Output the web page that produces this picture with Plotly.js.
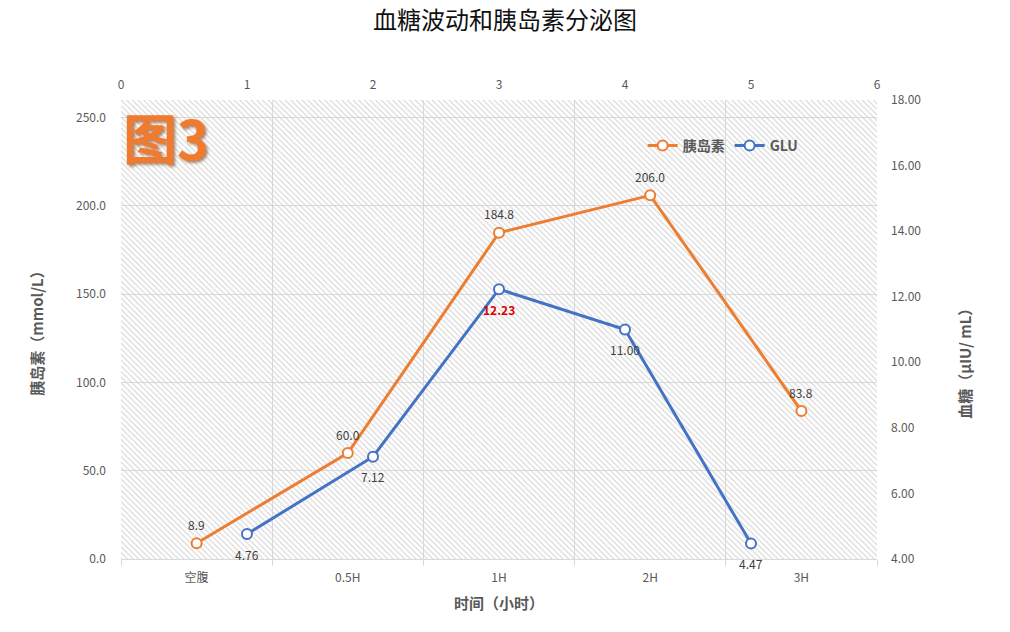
<!DOCTYPE html>
<html>
<head>
<meta charset="utf-8">
<script src="https://cdn.plot.ly/plotly-3.0.1.min.js"></script>
<style>html,body{margin:0;padding:0;background:#fff;}#chart{width:1010px;height:632px;}</style>
</head>
<body>
<div id="chart"></div>
<script>
const categories = ['空腹', '0.5H', '1H', '2H', '3H'];
const insulin = [8.9, 60.0, 184.8, 206.0, 83.8];
const gluX = [1, 2, 3, 4, 5];
const glu = [4.76, 7.12, 12.23, 11.00, 4.47];

const FONT = '"Noto Sans CJK SC", "Noto Sans", sans-serif';
const GRAY = '#595959';
const ORANGE = '#ED7D31';
const BLUE = '#4472C4';

const catIdx = categories.map((c, i) => i);
const xRange = [-0.5, categories.length - 0.5];
const yRange = [0, 260];

const bg = {
  x: [xRange[0], xRange[1], xRange[1], xRange[0], xRange[0]],
  y: [yRange[0], yRange[0], yRange[1], yRange[1], yRange[0]],
  xaxis: 'x', yaxis: 'y',
  mode: 'lines', line: {width: 0},
  fill: 'toself', fillcolor: 'rgba(0,0,0,0)',
  fillpattern: {shape: '\\', size: 4, solidity: 0.28, fgcolor: '#d3d3d3', bgcolor: 'rgba(255,255,255,0)'},
  hoverinfo: 'skip', showlegend: false
};

const tInsulin = {
  name: '胰岛素',
  x: catIdx, y: insulin,
  xaxis: 'x', yaxis: 'y',
  mode: 'lines+markers',
  line: {color: ORANGE, width: 3},
  marker: {symbol: 'circle', size: 10, color: '#fff', line: {color: ORANGE, width: 2}}
};

const tGlu = {
  name: 'GLU',
  x: gluX, y: glu,
  xaxis: 'x2', yaxis: 'y2',
  mode: 'lines+markers',
  line: {color: BLUE, width: 3},
  marker: {symbol: 'circle', size: 10, color: '#fff', line: {color: BLUE, width: 2}}
};

const labelFont = {family: FONT, size: 12, color: '#404040'};
const insulinLabels = insulin.map((v, i) => ({
  xref: 'x', yref: 'y', x: catIdx[i], y: v, text: v.toFixed(1),
  showarrow: false, yshift: 19, font: labelFont
}));
const gluLabels = glu.map((v, i) => ({
  xref: 'x2', yref: 'y2', x: gluX[i], y: v,
  text: i === 2 ? '<b>' + v.toFixed(2) + '</b>' : v.toFixed(2),
  showarrow: false, yshift: -20,
  font: Object.assign({}, labelFont, i === 2 ? {color: '#E00000'} : {})
}));

const layout = {
  width: 1010, height: 632,
  margin: {l: 121, r: 133, t: 100, b: 73, pad: 0},
  paper_bgcolor: '#fff', plot_bgcolor: '#fff',
  font: {family: FONT, size: 12, color: GRAY},
  title: {text: '血糖波动和胰岛素分泌图', font: {family: FONT, size: 24, color: '#111'}, x: 0.5, xanchor: 'center', y: 0.967, yanchor: 'middle'},
  showlegend: true,
  legend: {orientation: 'h', x: 0.69, y: 0.9, xanchor: 'left', yanchor: 'middle', bgcolor: 'rgba(0,0,0,0)',
    font: {family: FONT, size: 14, color: GRAY, weight: 'bold'}, itemwidth: 30, tracegroupgap: 0},
  xaxis: {
    type: 'linear', range: xRange,
    tickvals: catIdx, ticktext: categories, ticks: '', showgrid: false,
    minor: {tick0: -0.5, dtick: 1, showgrid: true, gridcolor: '#d9d9d9', gridwidth: 1, ticks: 'outside', ticklen: 6, tickcolor: '#d9d9d9'},
    showline: true, linecolor: '#d9d9d9', linewidth: 1,
    zeroline: false, tickfont: {size: 12, color: GRAY}, ticklabelstandoff: 8,
    title: {text: '时间（小时）', font: {size: 15, color: GRAY, weight: 'bold'}, standoff: 14}
  },
  yaxis: {
    range: yRange, dtick: 50, tick0: 0, tickformat: '.1f',
    showgrid: true, gridcolor: '#d9d9d9', gridwidth: 1, zeroline: false, showline: false, ticks: '',
    tickfont: {size: 12, color: GRAY}, ticklabelstandoff: 14,
    title: {text: '胰岛素（mmol/L）', font: {size: 15, color: GRAY, weight: 'bold'}, standoff: 28}
  },
  xaxis2: {
    overlaying: 'x', side: 'top', anchor: 'y2', range: [0, 6], dtick: 1, tick0: 0,
    showgrid: false, zeroline: false, showline: false, ticks: '',
    tickfont: {size: 12, color: GRAY}, ticklabelstandoff: 8
  },
  yaxis2: {
    overlaying: 'y', side: 'right', anchor: 'x2', range: [4, 18], dtick: 2, tick0: 4, tickformat: '.2f',
    showgrid: false, zeroline: false, showline: false, ticks: '',
    tickfont: {size: 12, color: GRAY}, ticklabelstandoff: 13
  },
  annotations: [{
    text: '图3', xref: 'paper', yref: 'paper', x: 0.0, y: 0.92, xanchor: 'left', yanchor: 'middle',
    showarrow: false,
    font: {family: FONT, size: 54, color: '#F07A2E', weight: 'bold', shadow: '2px 2px 3px rgba(120,60,20,0.6)'}
  }, {
    text: '血糖（μIU/ mL）', xref: 'paper', yref: 'paper', x: 1.1164, y: 0.434, xanchor: 'center', yanchor: 'middle',
    textangle: -90, showarrow: false,
    font: {family: FONT, size: 15, color: GRAY, weight: 'bold'}
  }].concat(insulinLabels, gluLabels)
};

Plotly.newPlot('chart', [bg, tInsulin, tGlu], layout, {displayModeBar: false, staticPlot: true});
</script>
</body>
</html>
